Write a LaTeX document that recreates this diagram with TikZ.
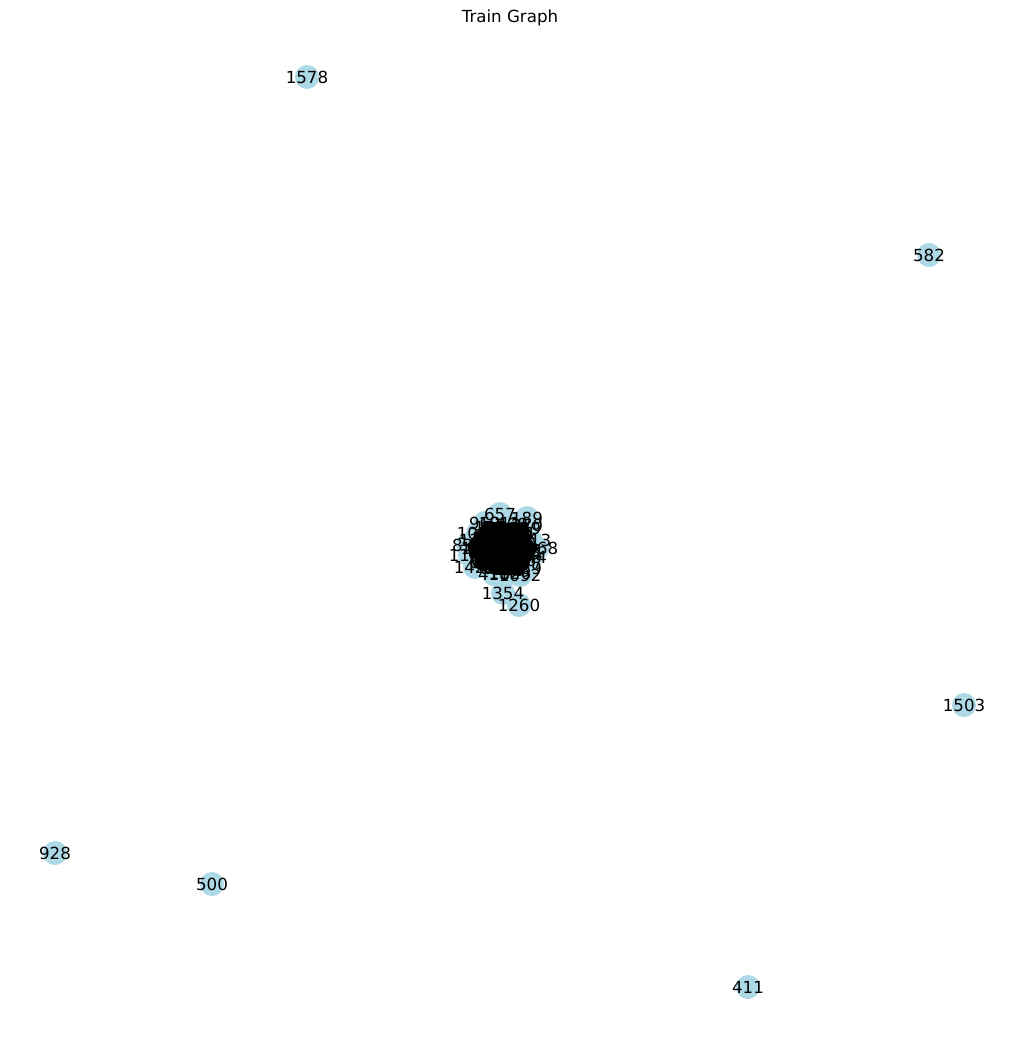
\documentclass[tikz,border=0pt]{standalone}
\usepackage{fontspec}
\setmainfont{DejaVu Sans}
\definecolor{nodeblue}{HTML}{ADD8E6}
\tikzset{
  vert/.style={circle, fill=nodeblue, draw=none, minimum size=17.3pt, inner sep=0pt},
  lbl/.style={font=\fontsize{12}{14}\selectfont, text=black, inner sep=0pt},
  edge/.style={draw=black, line width=1pt},
  title/.style={font=\fontsize{12}{14}\selectfont, inner sep=0pt},
}
% cluster: id/x/y/label, coordinates in pixels
\def\clusterlist{1/500/514/657, 2/527/518/189, 3/503/593/1354, 4/519/605/1260,
  5/510/573/1026, 6/475/567/1423, 7/468/545/834, 8/470/555/1187, 9/485/523/962,
  10/478/533/1093, 11/531/557/744, 12/530/540/1313, 13/527/525/270, 14/526/568/389,
  15/495/535/1102, 16/505/530/316, 17/515/533/1441, 18/522/540/58, 19/490/545/1207,
  20/500/545/623, 21/510/545/975, 22/520/550/1338, 23/485/555/412, 24/495/557/1519,
  25/505/558/87, 26/515/560/1066, 27/492/567/731, 28/502/568/1284, 29/512/566/249,
  30/522/562/1477, 31/488/538/596, 32/508/538/1150, 33/498/552/340, 34/518/545/883,
  35/482/548/1392, 36/525/553/705, 37/500/523/1011, 38/512/524/468, 39/520/528/1229,
  40/490/528/157, 41/505/550/1545, 42/497/562/922, 43/515/552/1371, 44/485/562/653,
  45/537/548/1168, 46/480/540/1356, 47/494/574/418, 48/520/575/1092}
\begin{document}
\begin{tikzpicture}[x=0.72pt, y=-0.72pt]
  \useasboundingbox (0,0) rectangle (1019,1042);
  \node[title] (head) at (510,18) {Train Graph};

  % far away nodes
  \node[vert] (n1578) at (307,77) {};
  \node[vert] (n582) at (929,255) {};
  \node[vert] (n1503) at (964,705) {};
  \node[vert] (n928) at (55,853) {};
  \node[vert] (n500) at (212,884) {};
  \node[vert] (n411) at (748,987) {};

  % cluster
  \foreach \n/\x/\y/\t in \clusterlist {
    \node[vert] (c\n) at (\x,\y) {};
  }
  \foreach \i in {5,...,48} {
    \foreach \j in {\i,...,48} {
      \draw[edge] (c\i.center) -- (c\j.center);
    }
  }
  \foreach \n/\x/\y/\t in \clusterlist {
    \node[lbl] (l\n) at (c\n) {\t};
  }

  \node[lbl] (t1578) at (n1578) {1578};
  \node[lbl] (t582) at (n582) {582};
  \node[lbl] (t1503) at (n1503) {1503};
  \node[lbl] (t928) at (n928) {928};
  \node[lbl] (t500) at (n500) {500};
  \node[lbl] (t411) at (n411) {411};
\end{tikzpicture}
\end{document}
